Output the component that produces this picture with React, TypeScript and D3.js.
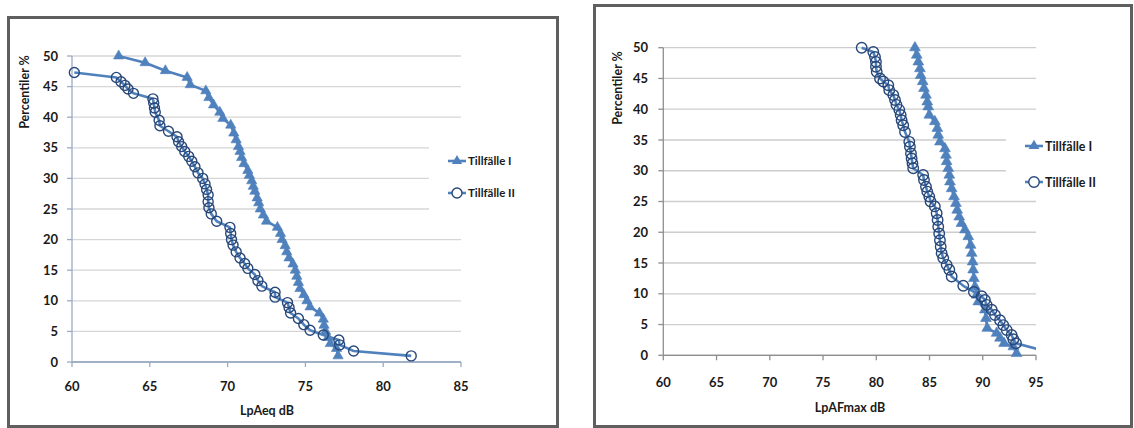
import React from "react";
import * as d3 from "d3";

// ---------- DATA ----------
// Left chart: LpAeq dB
const leqI_x = [63.0, 64.7, 66.0, 67.4, 67.6, 68.6, 68.8, 69.1, 69.5, 69.7, 70.2, 70.4, 70.55, 70.7, 70.8, 70.9, 71.05, 71.3, 71.4, 71.55, 71.65, 71.75, 71.9, 72.0, 72.1, 72.3, 72.5, 73.2, 73.4, 73.5, 73.7, 73.8, 73.95, 74.2, 74.35, 74.45, 74.55, 74.65, 74.9, 75.1, 75.3, 75.9, 76.15, 76.2, 76.3, 76.45, 76.6, 77.0, 77.1];
const leqI_p = [50, 48.9, 47.6, 46.5, 45.3, 44.3, 43.2, 42.0, 40.8, 39.8, 38.7, 37.4, 36.3, 35.2, 34.4, 33.4, 32.4, 31.3, 30.5, 29.6, 28.7, 27.9, 26.8, 26.0, 25.0, 24.0, 23.0, 22.0, 21.0, 20.0, 19.0, 18.0, 17.0, 16.0, 15.0, 14.0, 13.0, 12.0, 11.0, 10.0, 9.0, 8.0, 7.0, 6.0, 5.0, 4.0, 3.0, 2.2, 1.0];

const leqII_x = [60.15, 62.85, 63.15, 63.4, 63.6, 63.95, 65.2, 65.25, 65.3, 65.35, 65.6, 65.65, 66.2, 66.75, 66.85, 67.05, 67.25, 67.5, 67.7, 67.9, 68.1, 68.4, 68.55, 68.65, 68.75, 68.75, 68.8, 68.95, 69.3, 70.15, 70.2, 70.25, 70.35, 70.55, 70.8, 71.1, 71.3, 71.75, 71.95, 72.2, 73.05, 73.05, 73.85, 73.95, 74.05, 74.55, 74.9, 75.3, 76.15, 77.15, 77.2, 78.1, 81.8];
const leqII_p = [47.3, 46.5, 45.8, 45.2, 44.6, 43.9, 43.0, 42.3, 41.5, 40.8, 39.5, 38.6, 37.7, 36.8, 36.0, 35.2, 34.4, 33.6, 32.8, 31.9, 30.9, 30.0, 29.1, 28.2, 27.3, 26.2, 25.2, 24.2, 23.0, 22.0, 21.0, 20.0, 19.1, 18.0, 17.0, 16.1, 15.3, 14.3, 13.3, 12.4, 11.4, 10.6, 9.7, 8.9, 8.0, 7.1, 6.1, 5.2, 4.4, 3.6, 2.8, 1.8, 1.0];

// Right chart: LpAFmax dB
const fmaxI_x = [83.63, 83.8, 83.95, 84.1, 84.17, 84.36, 84.48, 84.67, 84.79, 84.88, 84.98, 85.5, 85.73, 85.82, 85.98, 86.45, 86.55, 86.61, 86.76, 86.86, 86.92, 87.08, 87.3, 87.48, 87.6, 87.79, 88.0, 88.33, 88.64, 88.86, 88.96, 89.05, 89.1, 89.17, 89.27, 89.43, 89.58, 90.2, 90.3, 90.42, 91.3, 91.62, 92.0, 92.87, 93.18];
const fmaxI_p = [50, 48.8, 47.7, 46.6, 45.5, 44.5, 43.4, 42.3, 41.2, 40.4, 39.05, 38.0, 36.9, 35.8, 34.7, 33.6, 32.55, 31.5, 30.4, 29.3, 28.2, 27.1, 25.8, 24.7, 23.6, 22.5, 21.45, 20.4, 19.3, 17.9, 16.6, 15.2, 13.9, 12.5, 11.15, 9.8, 8.7, 7.4, 6.0, 4.4, 3.6, 2.8, 1.95, 1.4, 0.3];

const fmaxII_x = [78.63, 79.72, 79.88, 79.97, 79.97, 80.04, 80.35, 80.66, 81.13, 81.22, 81.6, 81.76, 81.9, 82.16, 82.29, 82.38, 82.53, 82.7, 83.1, 83.16, 83.26, 83.32, 83.4, 83.47, 84.4, 84.48, 84.67, 84.79, 84.98, 85.1, 85.5, 85.67, 85.76, 85.82, 85.91, 85.98, 86.05, 86.14, 86.29, 86.61, 86.86, 87.08, 88.17, 89.17, 89.9, 90.2, 90.37, 90.84, 91.15, 91.62, 91.93, 92.25, 92.71, 92.87, 93.12, 96.3];
const fmaxII_p = [50, 49.3, 48.5, 47.7, 46.9, 46.1, 45.0, 44.5, 43.9, 43.1, 42.3, 41.5, 40.7, 39.9, 39.05, 38.2, 37.4, 36.3, 34.7, 33.9, 32.8, 32.0, 31.2, 30.4, 29.3, 28.5, 27.4, 26.6, 25.8, 25.0, 24.2, 23.1, 22.0, 20.9, 19.8, 18.7, 17.65, 16.6, 15.8, 14.7, 13.9, 12.8, 11.3, 10.3, 9.6, 9.0, 8.2, 7.4, 6.55, 5.7, 4.9, 4.1, 3.3, 2.6, 1.95, 0.5];

const yTicks = [0, 5, 10, 15, 20, 25, 30, 35, 40, 45, 50];
const leqTicks = [60, 65, 70, 75, 80, 85];
const fmaxTicks = [60, 65, 70, 75, 80, 85, 90, 95];
const seriesNames = ["Tillfälle I", "Tillfälle II"];
const yTitle = "Percentiler %";

const C_I = "#4F81BD";
const C_II_LINE = "#4F81BD";
const C_II_MARK = "#28487A";
const FONT = "Lato, 'Open Sans', sans-serif";
const INK = "#1a1a1a";

type PanelProps = {
  id: string;
  frame: { x: number; y: number; w: number; h: number };
  plot: { x0: number; x1: number; y0: number; y1: number };
  xDomain: [number, number];
  xTicks: number[];
  xTitle: string;
  xTitleX: number;
  xTitleY: number;
  xLabelY: number;
  yLabelRight: number;
  yTitleX: number;
  yTitleY: number;
  legend: { lx: number; ly: number; gap: number; box: [number, number, number, number]; fs: number };
  axisColor: string;
  gridColor: string;
  sI: { x: number[]; p: number[] };
  sII: { x: number[]; p: number[] };
  markScale: number;
};

function Panel(props: PanelProps) {
  const { plot, frame, legend } = props;
  const xs = d3.scaleLinear().domain(props.xDomain).range([plot.x0, plot.x1]);
  const ys = d3.scaleLinear().domain([0, 50]).range([plot.y0, plot.y1]);
  const ptsI = props.sI.x.map((v, i) => [v, props.sI.p[i]] as [number, number]);
  const ptsII = props.sII.x.map((v, i) => [v, props.sII.p[i]] as [number, number]);
  const line = d3.line<[number, number]>().x((d) => xs(d[0])).y((d) => ys(d[1]));
  const tri = d3.symbol().type(d3.symbolTriangle).size(46 * props.markScale)() as string;
  const r = 5 * Math.sqrt(props.markScale);
  const clipId = "clip-" + props.id;
  return (
    <g>
      <rect x={frame.x} y={frame.y} width={frame.w} height={frame.h} fill="#fff" stroke="#5f5f5f" strokeWidth={3} />
      <defs>
        <clipPath id={clipId}>
          <rect x={plot.x0 - 8} y={plot.y1 - 8} width={plot.x1 - plot.x0 + 8} height={plot.y0 - plot.y1 + 16} />
        </clipPath>
      </defs>
      {yTicks.map((t) => (
        <line key={"g" + t} x1={plot.x0} x2={plot.x1} y1={ys(t)} y2={ys(t)} stroke={t === 0 ? props.axisColor : props.gridColor} strokeWidth={1.3} />
      ))}
      <rect x={legend.box[0]} y={legend.box[1]} width={legend.box[2]} height={legend.box[3]} fill="#fff" />
      <line x1={plot.x0} x2={plot.x0} y1={plot.y1} y2={plot.y0} stroke={props.axisColor} strokeWidth={1.3} />
      <line x1={plot.x0} x2={plot.x1} y1={plot.y0} y2={plot.y0} stroke={props.axisColor} strokeWidth={1.3} />
      {yTicks.map((t) => (
        <g key={"yt" + t}>
          <line x1={plot.x0 - 5} x2={plot.x0} y1={ys(t)} y2={ys(t)} stroke={props.axisColor} strokeWidth={1.3} />
          <text x={props.yLabelRight} y={ys(t)} dy="0.36em" textAnchor="end" fontSize={13} fontWeight="bold" fill={INK}>{t}</text>
        </g>
      ))}
      {props.xTicks.map((t) => (
        <g key={"xt" + t}>
          <line x1={xs(t)} x2={xs(t)} y1={plot.y0} y2={plot.y0 + 5} stroke={props.axisColor} strokeWidth={1.3} />
          <text x={xs(t)} y={props.xLabelY} dy="0.36em" textAnchor="middle" fontSize={13} fontWeight="bold" fill={INK}>{t}</text>
        </g>
      ))}
      <text x={props.xTitleX} y={props.xTitleY} dy="0.36em" textAnchor="middle" fontSize={12.5} fontWeight="bold" fill={INK}>{props.xTitle}</text>
      <text transform={`translate(${props.yTitleX},${props.yTitleY}) rotate(-90)`} dy="0.36em" textAnchor="middle" fontSize={12.5} fontWeight="bold" fill={INK}>{yTitle}</text>
      <g clipPath={`url(#${clipId})`}>
        <path d={line(ptsI) || ""} fill="none" stroke={C_I} strokeWidth={2.6} strokeLinejoin="round" />
        {ptsI.map((d, i) => (
          <path key={"a" + i} d={tri} transform={`translate(${xs(d[0])},${ys(d[1])})`} fill={C_I} stroke={C_I} strokeWidth={0.6} />
        ))}
        <path d={line(ptsII) || ""} fill="none" stroke={C_II_LINE} strokeWidth={2.6} strokeLinejoin="round" />
        {ptsII.map((d, i) => (
          <circle key={"b" + i} cx={xs(d[0])} cy={ys(d[1])} r={r} fill="none" stroke={C_II_MARK} strokeWidth={1.4} />
        ))}
      </g>
      <g>
        <line x1={legend.lx} x2={legend.lx + 18} y1={legend.ly} y2={legend.ly} stroke={C_I} strokeWidth={2.6} />
        <path d={tri} transform={`translate(${legend.lx + 9},${legend.ly})`} fill={C_I} />
        <text x={legend.lx + 20} y={legend.ly} dy="0.36em" fontSize={legend.fs} fontWeight="bold" fill={INK}>{seriesNames[0]}</text>
        <line x1={legend.lx} x2={legend.lx + 18} y1={legend.ly + legend.gap} y2={legend.ly + legend.gap} stroke={C_II_LINE} strokeWidth={2.6} />
        <circle cx={legend.lx + 9} cy={legend.ly + legend.gap} r={r} fill="#fff" stroke={C_II_MARK} strokeWidth={1.4} />
        <text x={legend.lx + 20} y={legend.ly + legend.gap} dy="0.36em" fontSize={legend.fs} fontWeight="bold" fill={INK}>{seriesNames[1]}</text>
      </g>
    </g>
  );
}

export default function App() {
  return (
    <svg width={1134} height={428} style={{ position: "absolute", left: 0, top: 0, fontFamily: FONT }}>
      <rect x={0} y={0} width={1134} height={428} fill="#fff" />
      <Panel
        id="l"
        frame={{ x: 8.5, y: 17.5, w: 549, h: 409 }}
        plot={{ x0: 72, x1: 461, y0: 362, y1: 56 }}
        xDomain={[60, 85]}
        xTicks={leqTicks}
        xTitle="LpAeq dB"
        xTitleX={267}
        xTitleY={410}
        xLabelY={386}
        yLabelRight={58}
        yTitleX={24}
        yTitleY={92}
        legend={{ lx: 448, ly: 161, gap: 32, box: [429, 130, 125, 90], fs: 11.5 }}
        axisColor="#9AABC3"
        gridColor="#D6D6D6"
        sI={{ x: leqI_x, p: leqI_p }}
        sII={{ x: leqII_x, p: leqII_p }}
        markScale={1}
      />
      <Panel
        id="r"
        frame={{ x: 594.5, y: 5.5, w: 537, h: 421 }}
        plot={{ x0: 663.3, x1: 1036, y0: 355.3, y1: 47.7 }}
        xDomain={[60, 95]}
        xTicks={fmaxTicks}
        xTitle="LpAFmax dB"
        xTitleX={850}
        xTitleY={407}
        xLabelY={382}
        yLabelRight={648}
        yTitleX={617}
        yTitleY={88}
        legend={{ lx: 1025, ly: 146, gap: 36, box: [1006, 118, 124, 80], fs: 12.5 }}
        axisColor="#8F8F8F"
        gridColor="#CDCDCD"
        sI={{ x: fmaxI_x, p: fmaxI_p }}
        sII={{ x: fmaxII_x, p: fmaxII_p }}
        markScale={1.1}
      />
    </svg>
  );
}
